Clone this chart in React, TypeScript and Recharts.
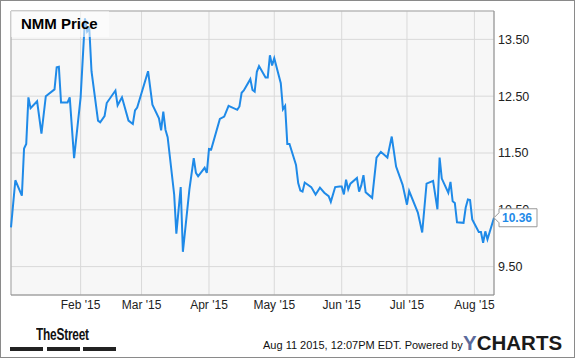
import React from "react"
import {
  LineChart,
  Line,
  XAxis,
  YAxis,
  CartesianGrid,
  ReferenceLine,
  LabelList,
} from "recharts"

// NMM closing prices
const dates = [
  "2014-12-31", "2015-01-02", "2015-01-05", "2015-01-06", "2015-01-07", "2015-01-08", "2015-01-09",
  "2015-01-12", "2015-01-14", "2015-01-16", "2015-01-20", "2015-01-21", "2015-01-22", "2015-01-23",
  "2015-01-26", "2015-01-27", "2015-01-29", "2015-02-01", "2015-02-03", "2015-02-04", "2015-02-05",
  "2015-02-06", "2015-02-09", "2015-02-10", "2015-02-12", "2015-02-13", "2015-02-17", "2015-02-18",
  "2015-02-20", "2015-02-23", "2015-02-25", "2015-02-26", "2015-02-27", "2015-03-04", "2015-03-06",
  "2015-03-09", "2015-03-10", "2015-03-11", "2015-03-12", "2015-03-13", "2015-03-16", "2015-03-17",
  "2015-03-19", "2015-03-20", "2015-03-23", "2015-03-25", "2015-03-26", "2015-03-27", "2015-03-30",
  "2015-03-31", "2015-04-01", "2015-04-02", "2015-04-06", "2015-04-08", "2015-04-10", "2015-04-14",
  "2015-04-15", "2015-04-16", "2015-04-17", "2015-04-20", "2015-04-21", "2015-04-22", "2015-04-23",
  "2015-04-24", "2015-04-27", "2015-04-28", "2015-04-29", "2015-04-30", "2015-05-01", "2015-05-04",
  "2015-05-05", "2015-05-06", "2015-05-07", "2015-05-08", "2015-05-11", "2015-05-12", "2015-05-13",
  "2015-05-14", "2015-05-15", "2015-05-18", "2015-05-20", "2015-05-22", "2015-05-24", "2015-05-26",
  "2015-05-27", "2015-05-29", "2015-05-31", "2015-06-01", "2015-06-02", "2015-06-03", "2015-06-04",
  "2015-06-05", "2015-06-08", "2015-06-09", "2015-06-10", "2015-06-11", "2015-06-12", "2015-06-15",
  "2015-06-17", "2015-06-19", "2015-06-22", "2015-06-24", "2015-06-26", "2015-06-29", "2015-07-01",
  "2015-07-02", "2015-07-06", "2015-07-08", "2015-07-10", "2015-07-13", "2015-07-15", "2015-07-16",
  "2015-07-17", "2015-07-20", "2015-07-21", "2015-07-22", "2015-07-23", "2015-07-24", "2015-07-27",
  "2015-07-28", "2015-07-29", "2015-07-30", "2015-07-31", "2015-08-03", "2015-08-04", "2015-08-05",
  "2015-08-06", "2015-08-07", "2015-08-10",
]

const prices = [
  10.19, 11.02, 10.75, 11.58, 11.66, 12.48, 12.29,
  12.41, 11.84, 12.5, 12.62, 13.01, 13.02, 12.39,
  12.39, 12.48, 11.41, 12.48, 13.87, 13.64, 13.69,
  12.94, 12.07, 12.04, 12.15, 12.38, 12.6, 12.34,
  12.48, 12.07, 12.01, 12.25, 12.3, 12.94, 12.35,
  12.11, 11.9, 12.23, 11.91, 11.78, 10.77, 10.08,
  10.9, 9.76, 10.86, 11.41, 11.15, 11.09, 11.24,
  11.15, 11.57, 11.56, 12.1, 12.14, 12.33, 12.26,
  12.32, 12.56, 12.6, 12.8, 12.61, 12.58, 12.93,
  13.03, 12.83, 12.83, 13.22, 13.04, 13.17, 12.73,
  12.27, 12.33, 11.66, 11.66, 11.29, 10.97, 10.84,
  10.82, 10.98, 10.9, 10.77, 10.89, 10.8, 10.74,
  10.64, 10.9, 10.91, 10.91, 10.77, 11.03, 10.86,
  10.96, 11.06, 10.82, 10.93, 11.11, 10.81, 10.71,
  11.42, 11.52, 11.42, 11.79, 11.26, 10.94, 10.59,
  10.83, 10.45, 10.1, 10.96, 11.01, 10.51, 11.42,
  11.05, 10.8, 10.99, 10.65, 10.62, 10.28, 10.27,
  10.54, 10.68, 10.67, 10.33, 10.11, 10.11, 9.92,
  10.12, 9.98, 10.36,
]

const monthStarts = ["2015-02-01", "2015-03-01", "2015-04-01", "2015-05-01", "2015-06-01", "2015-07-01", "2015-08-01"]
const monthLabels = ["Feb '15", "Mar '15", "Apr '15", "May '15", "Jun '15", "Jul '15", "Aug '15"]
const priceTicks = [9.5, 10.5, 11.5, 12.5, 13.5]

const toTime = (s: string) => Date.parse(s + "T00:00:00Z")

const data = dates.map((d, i) => ({ t: toTime(d), price: prices[i] }))
const xTicks = monthStarts.map(toTime)
const xDomain = [toTime("2014-12-31"), toTime("2015-08-10")]

const font = "'Liberation Sans', Arial, sans-serif"
const lineBlue = "#1f8ae8"

const LastValueTag = (props: any) => {
  const { x, y, index, value } = props
  if (index !== data.length - 1) return null
  const path = `M${x},${y} L${x + 5},${y - 5} L${x + 5},${y - 9} L${x + 43},${y - 9} L${x + 43},${y + 9} L${x + 5},${y + 9} L${x + 5},${y + 5} Z`
  return (
    <g>
      <path d={path} fill="#fff" stroke="#999" strokeWidth={1} />
      <text x={x + 8} y={y} dy="0.36em" fill={lineBlue} fontWeight="bold" fontSize={12} fontFamily={font}>
        {Number(value).toFixed(2)}
      </text>
    </g>
  )
}

export default function App() {
  return (
    <div style={{ position: "relative", width: 575, height: 358, background: "#fff", fontFamily: font }}>
      <style>{"body{margin:0}"}</style>
      <LineChart width={575} height={358} data={data} margin={{ top: 11, right: 0, bottom: 0, left: 11 }}>
        <CartesianGrid fill="#f7f7f7" stroke="#d9d9d9" />
        <XAxis
          dataKey="t"
          type="number"
          domain={xDomain}
          ticks={xTicks}
          tickFormatter={(v) => monthLabels[xTicks.indexOf(v)]}
          height={63}
          tickLine={false}
          tickSize={0}
          tickMargin={5}
          axisLine={{ stroke: "#888" }}
          tick={{ fill: "#222", fontSize: 12, fontFamily: font }}
        />
        <YAxis
          orientation="right"
          type="number"
          domain={[9, 14]}
          ticks={priceTicks}
          tickFormatter={(v) => v.toFixed(2)}
          width={81}
          tickLine={false}
          tickSize={0}
          tickMargin={4}
          axisLine={{ stroke: "#888" }}
          tick={{ fill: "#222", fontSize: 12.5, fontFamily: font, textAnchor: "start" }}
        />
        <ReferenceLine y={14} stroke="#aaa" />
        <ReferenceLine x={xDomain[0]} stroke="#aaa" />
        <Line
          type="linear"
          dataKey="price"
          stroke={lineBlue}
          strokeWidth={2}
          dot={false}
          isAnimationActive={false}
        >
          <LabelList dataKey="price" content={LastValueTag} />
        </Line>
      </LineChart>

      {/* title box */}
      <div
        style={{
          position: "absolute", left: 11, top: 11, width: 98, height: 26,
          background: "rgba(255,255,255,0.55)", boxSizing: "border-box",
          paddingLeft: 10, fontWeight: "bold", fontSize: 15, lineHeight: "26px", color: "#000",
        }}
      >
        NMM Price
      </div>

      {/* TheStreet logo */}
      <div
        style={{
          position: "absolute", left: 36, top: 325, fontWeight: "bold", fontSize: 16.5,
          letterSpacing: -0.3, color: "#111", transform: "scaleX(0.72)", transformOrigin: "0 0",
          whiteSpace: "pre",
        }}
      >
        TheStreet
      </div>
      {[10, 47, 83].map((l) => (
        <div key={l} style={{ position: "absolute", left: l, top: 347, width: 33, height: 4, background: "#222" }} />
      ))}

      {/* footer */}
      <div style={{ position: "absolute", left: 263, top: 339, fontSize: 11, color: "#111", whiteSpace: "pre" }}>
        Aug 11 2015, 12:07PM EDT. Powered by
      </div>
      <div style={{ position: "absolute", left: 463, top: 331, fontSize: 20.5, fontWeight: "bold", whiteSpace: "pre" }}>
        <span style={{ color: "#5b6a9c" }}>Y</span>
        <span style={{ color: "#1a1a1a" }}>CHARTS</span>
      </div>

      {/* outer frame */}
      <div
        style={{
          position: "absolute", left: 0, top: 0, width: 575, height: 358,
          border: "1px solid #8a8a8a", boxSizing: "border-box", pointerEvents: "none",
        }}
      />
    </div>
  )
}
